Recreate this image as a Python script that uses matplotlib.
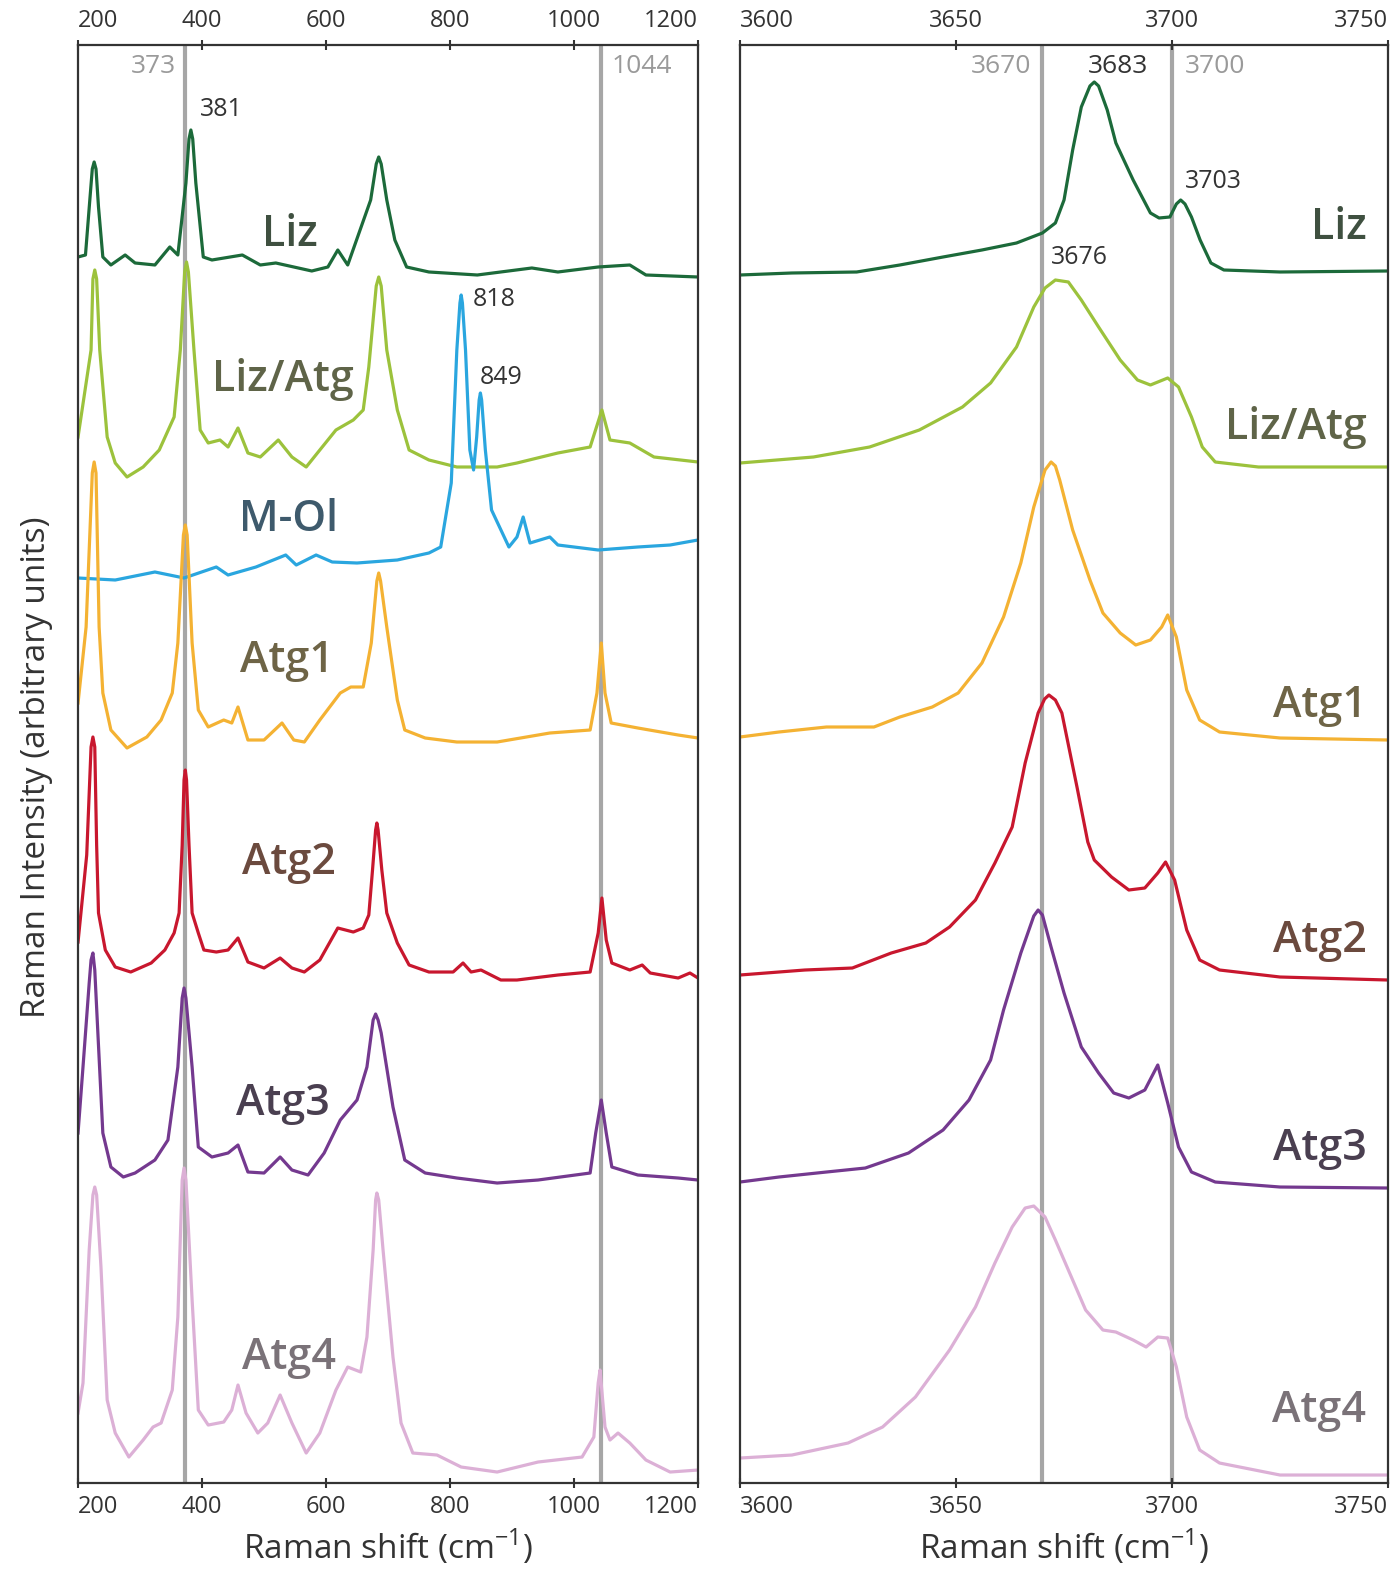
import matplotlib.pyplot as plt

plt.rcParams['font.family'] = ['Open Sans', 'DejaVu Sans']

# ---------------- low wavenumber region, 200-1200 cm-1 ----------------
liz_x = [200, 212, 219, 223, 226, 229, 233, 240, 253, 276, 292, 324, 348, 361, 374, 379, 382, 385, 390, 402,
         416, 465, 494, 519, 577, 603, 619, 635, 672, 681, 685, 689, 698, 711, 730, 766, 844, 932, 974, 1039,
         1090, 1116, 1200]
liz_y = [20, 22, 77, 108, 115, 108, 70, 20, 12, 22, 14, 12, 30, 22, 94, 138, 147, 138, 94, 20,
         17, 22, 12, 14, 6, 10, 27, 12, 77, 113, 120, 113, 77, 37, 10, 5, 2, 9, 5, 10,
         12, 2, 0]

lizatg_x = [200, 221, 224, 227, 230, 235, 247, 260, 279, 305, 331, 355, 365, 372, 375, 378, 387, 397, 410, 429,
            442, 458, 474, 494, 523, 545, 568, 590, 616, 644, 660, 669, 681, 685, 689, 698, 715, 734, 766, 811,
            876, 908, 974, 1026, 1045, 1058, 1090, 1129, 1200]
lizatg_y = [25, 112, 183, 192, 183, 112, 25, -1, -15, -5, 12, 45, 112, 190, 200, 190, 112, 32, 19, 22,
            15, 34, 9, 5, 22, 5, -5, 12, 32, 42, 52, 95, 176, 185, 176, 112, 52, 12, 2, -5,
            -5, -1, 9, 15, 52, 22, 19, 5, 0]

mol_x = [200, 260, 324, 371, 423, 442, 487, 535, 552, 584, 610, 650, 715, 766, 785, 802, 811, 816, 818, 820,
         825, 832, 838, 843, 847, 849, 851, 857, 867, 895, 908, 918, 929, 961, 974, 1039, 1103, 1155, 1200]
mol_y = [0, -2, 6, 0, 11, 3, 11, 23, 13, 23, 16, 15, 18, 25, 31, 95, 228, 275, 283, 275,
         228, 128, 108, 141, 178, 185, 178, 128, 68, 31, 41, 61, 35, 41, 33, 28, 31, 33, 38]

atg1_x = [200, 213, 223, 226, 229, 234, 240, 253, 279, 311, 334, 352, 361, 370, 373, 376, 384, 394, 410, 435,
          448, 458, 474, 500, 529, 548, 565, 590, 623, 640, 660, 673, 682, 685, 688, 698, 715, 727, 760, 811,
          876, 961, 1026, 1037, 1044, 1050, 1060, 1103, 1168, 1200]
atg1_y = [35, 111, 265, 276, 265, 111, 45, 8, -10, 1, 18, 45, 95, 203, 213, 203, 95, 28, 11, 18,
          15, 31, -2, -2, 15, -2, -4, 18, 45, 51, 51, 95, 157, 165, 157, 111, 38, 8, 0, -4,
          -4, 5, 8, 45, 95, 45, 15, 10, 3, 0]

atg2_x = [200, 214, 221, 224, 227, 230, 233, 244, 260, 285, 318, 340, 355, 363, 368, 371, 373, 375, 379, 384,
          394, 403, 423, 442, 458, 474, 500, 526, 545, 565, 590, 619, 644, 660, 669, 675, 680, 682, 684, 690,
          698, 715, 734, 766, 805, 821, 834, 850, 882, 908, 974, 1026, 1039, 1045, 1052, 1061, 1090, 1110, 1123,
          1168, 1187, 1200]
atg2_y = [33, 120, 228, 238, 228, 130, 62, 25, 8, 3, 12, 25, 42, 62, 130, 195, 205, 195, 130, 62,
          42, 25, 23, 25, 37, 13, 7, 17, 7, 3, 15, 47, 43, 47, 60, 105, 145, 152, 145, 105,
          62, 32, 10, 3, 3, 12, 3, 5, -5, -5, 0, 3, 42, 77, 35, 12, 5, 10, 2,
          -3, 2, -3]

atg3_x = [200, 208, 218, 221, 224, 227, 232, 240, 253, 273, 292, 324, 345, 361, 368, 371, 374, 384, 394, 416,
          442, 458, 474, 500, 526, 545, 571, 597, 623, 650, 666, 676, 680, 684, 689, 708, 727, 760, 811, 876,
          942, 1026, 1035, 1044, 1052, 1061, 1103, 1168, 1200]
atg3_y = [47, 113, 197, 220, 227, 210, 147, 47, 13, 3, 7, 20, 40, 113, 182, 192, 182, 113, 33, 23,
          27, 35, 8, 7, 23, 10, 5, 27, 60, 80, 113, 160, 166, 160, 147, 73, 20, 7, 2, -3,
          0, 7, 47, 80, 47, 13, 5, 2, 0]

atg4_x = [200, 208, 218, 224, 227, 230, 237, 247, 260, 282, 305, 321, 334, 352, 361, 368, 371, 374, 384, 394,
          410, 435, 448, 458, 471, 490, 506, 526, 545, 568, 590, 616, 635, 656, 666, 676, 680, 682, 685, 692,
          708, 721, 740, 779, 818, 876, 942, 1013, 1032, 1039, 1042, 1050, 1058, 1071, 1090, 1116, 1155, 1200]
atg4_y = [57, 87, 220, 275, 283, 275, 203, 70, 37, 13, 30, 43, 47, 80, 153, 290, 302, 290, 170, 60,
          45, 48, 60, 85, 57, 37, 47, 75, 47, 17, 37, 80, 103, 98, 133, 220, 270, 277, 270, 220,
          113, 47, 17, 15, 3, -2, 8, 13, 33, 87, 100, 43, 30, 37, 27, 10, -2, 0]

# ---------------- OH stretching region, 3600-3750 cm-1 ----------------
liz_oh_x = [3600, 3612, 3627, 3637, 3647, 3656, 3664, 3670, 3673, 3675, 3677, 3679, 3681, 3682, 3683, 3685,
            3687, 3691, 3695, 3697, 3699.5, 3701, 3702, 3703, 3704.5, 3706.5, 3709, 3712, 3725, 3750]
liz_oh_y = [-3, -1, 0, 7, 15, 22, 29, 39, 49, 72, 122, 165, 186, 190, 186, 162,
            129, 92, 59, 54, 55, 68, 72, 68, 55, 32, 9, 2, 0, 1]

lizatg_oh_x = [3600, 3617, 3630, 3641.5, 3651.5, 3658, 3664, 3668, 3670.6, 3673, 3676, 3679, 3683, 3688,
               3692, 3695, 3699, 3701.5, 3704.5, 3707, 3710, 3720, 3750]
lizatg_oh_y = [2, 8, 18, 35, 58, 82, 118, 158, 177, 185, 183, 165, 138, 105,
               85, 80, 87, 78, 48, 18, 3, -2, -2]

atg1_oh_x = [3600, 3609, 3620, 3631, 3637, 3644.5, 3650.5, 3656, 3661, 3665, 3668, 3670.6, 3672, 3673, 3674,
             3677, 3681, 3684, 3688, 3691.6, 3695, 3697.6, 3699, 3701, 3703.4, 3706.4, 3711, 3725, 3750]
atg1_oh_y = [1, 6, 11, 11, 21, 31, 45, 75, 121, 175, 231, 268, 276, 272, 258,
             208, 158, 125, 105, 93, 98, 111, 123, 101, 48, 18, 6, 0, -2]

atg2_oh_x = [3600, 3615, 3626, 3635, 3643, 3648.5, 3654.5, 3659, 3663, 3666, 3669, 3670.5, 3671.5, 3673, 3674.5,
             3678, 3680.5, 3682, 3686, 3690, 3693.7, 3696.7, 3698.5, 3700.6, 3703.4, 3706.4, 3711, 3725, 3750]
atg2_oh_y = [2, 7, 9, 24, 34, 50, 77, 114, 150, 214, 264, 278, 282, 277, 264,
             190, 135, 117, 100, 87, 89, 104, 115, 97, 47, 17, 7, 0, -3]

atg3_oh_x = [3600, 3609, 3620, 3629, 3639, 3647, 3653, 3658, 3661, 3665, 3668, 3669, 3670, 3672, 3675, 3679,
             3683, 3686.5, 3690, 3693.7, 3696.7, 3699, 3701.5, 3704.5, 3710, 3725, 3750]
atg3_oh_y = [4, 9, 14, 18, 33, 56, 86, 126, 176, 233, 270, 276, 271, 239, 193, 139,
             113, 93, 88, 96, 121, 83, 39, 14, 4, -1, -2]

atg4_oh_x = [3600, 3612, 3625, 3633, 3640.6, 3648.5, 3654.5, 3659, 3663, 3666, 3668, 3670.6, 3673, 3676,
             3680, 3684, 3687, 3691, 3694, 3696.7, 3699, 3701, 3703.4, 3706.4, 3711, 3725, 3750]
atg4_oh_y = [16, 19, 31, 47, 77, 124, 167, 211, 247, 266, 268, 257, 234, 204,
             164, 144, 142, 134, 127, 137, 136, 107, 57, 24, 11, -1, -1]

names = ['Liz', 'Liz/Atg', 'M-Ol', 'Atg1', 'Atg2', 'Atg3', 'Atg4']
line_colors = ['#1c6a3a', '#9cc23c', '#2aa6df', '#f4b233', '#c8172e', '#74398f', '#dcb0d6']
text_colors = ['#3f5040', '#5f6448', '#3e5a6c', '#6e6446', '#6b4a3e', '#4a3f50', '#7a7278']
offsets_low = [1206, 1021, 905, 745, 508, 303, 13]
offsets_oh = [1211, 1018, None, 745, 506, 297, 9]

low = [(liz_x, liz_y), (lizatg_x, lizatg_y), (mol_x, mol_y), (atg1_x, atg1_y),
       (atg2_x, atg2_y), (atg3_x, atg3_y), (atg4_x, atg4_y)]
oh = [(liz_oh_x, liz_oh_y), (lizatg_oh_x, lizatg_oh_y), None, (atg1_oh_x, atg1_oh_y),
      (atg2_oh_x, atg2_oh_y), (atg3_oh_x, atg3_oh_y), (atg4_oh_x, atg4_oh_y)]

# label positions (wavenumber, a.u.)
label_low = [(542, 1248), (531, 1103), (539, 963), (537, 823), (540, 621), (531, 380), (540, 126)]
label_oh = [(3745, 1255), (3745, 1055), None, (3745, 778), (3745, 543), (3745, 335), (3745, 73)]

ref_low = [373, 1044]
ref_oh = [3670, 3700]

fig = plt.figure(figsize=(13.96, 15.73), dpi=100)
ax1 = fig.add_axes([0.0559, 0.0572, 0.4441, 0.9142])
ax2 = fig.add_axes([0.5301, 0.0572, 0.4642, 0.9142])

for ax, lo, hi, ticks in [(ax1, 200, 1200, [200, 400, 600, 800, 1000, 1200]),
                          (ax2, 3600, 3750, [3600, 3650, 3700, 3750])]:
    ax.set_xlim(lo, hi)
    ax.set_ylim(0, 1438)
    ax.set_yticks([])
    ax.set_xticks(ticks)
    ax.tick_params(axis='x', top=True, labeltop=True, direction='inout', length=7, width=1.5,
                   labelsize=17, colors='#333333', pad=5)
    for s in ax.spines.values():
        s.set_linewidth(1.6)
        s.set_color('#333333')
    majors = ax.xaxis.get_major_ticks()
    for t in (majors[0].label1, majors[0].label2):
        t.set_horizontalalignment('left')
    for t in (majors[-1].label1, majors[-1].label2):
        t.set_horizontalalignment('right')
    ax.set_xlabel('Raman shift (cm$^{\\mathregular{-1}}$)', fontsize=24, color='#333333', labelpad=6)

for v in ref_low:
    ax1.axvline(v, color='#a6a6a6', lw=3, zorder=1)
for v in ref_oh:
    ax2.axvline(v, color='#a6a6a6', lw=3, zorder=1)

for i, name in enumerate(names):
    x, y = low[i]
    ax1.plot(x, [v + offsets_low[i] for v in y], color=line_colors[i], lw=2.3, zorder=2,
             solid_joinstyle='round')
    ax1.text(label_low[i][0], label_low[i][1], name, fontsize=31, fontweight='semibold',
             color=text_colors[i], ha='center', va='center', zorder=3)
    if oh[i] is not None:
        x, y = oh[i]
        ax2.plot(x, [v + offsets_oh[i] for v in y], color=line_colors[i], lw=2.3, zorder=2,
                 solid_joinstyle='round')
        ax2.text(label_oh[i][0], label_oh[i][1], name, fontsize=31, fontweight='semibold',
                 color=text_colors[i], ha='right', va='center', zorder=3)

# peak annotations
ax1.text(358, 1416, '373', fontsize=19, color='#9a9a9a', ha='right', va='center')
ax1.text(1060, 1416, '1044', fontsize=19, color='#9a9a9a', ha='left', va='center')
ax1.text(397, 1373, '381', fontsize=18, color='#333333', ha='left', va='center')
ax1.text(837, 1183, '818', fontsize=18, color='#333333', ha='left', va='center')
ax1.text(848, 1105, '849', fontsize=18, color='#333333', ha='left', va='center')

ax2.text(3667.5, 1416, '3670', fontsize=19, color='#9a9a9a', ha='right', va='center')
ax2.text(3680.5, 1416, '3683', fontsize=19, color='#333333', ha='left', va='center')
ax2.text(3703, 1416, '3700', fontsize=19, color='#9a9a9a', ha='left', va='center')
ax2.text(3703, 1301, '3703', fontsize=18, color='#333333', ha='left', va='center')
ax2.text(3672, 1225, '3676', fontsize=18, color='#333333', ha='left', va='center')

fig.text(0.026, 0.512, 'Raman Intensity (arbitrary units)', rotation=90, fontsize=24,
         color='#333333', ha='center', va='center')

fig.savefig('out.png', dpi=100)
